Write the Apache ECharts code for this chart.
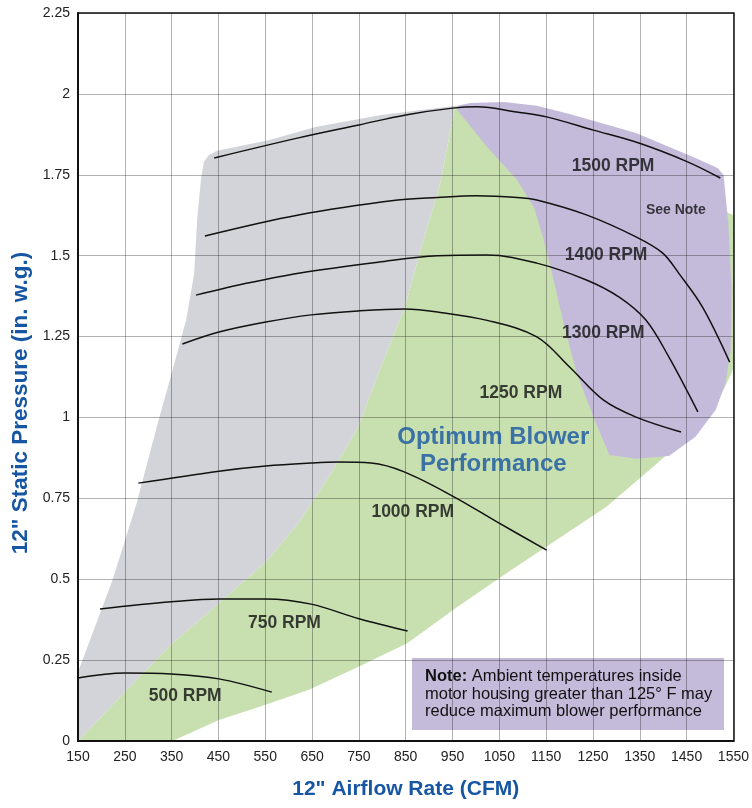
<!DOCTYPE html>
<html><head><meta charset="utf-8">
<script src="https://cdn.jsdelivr.net/npm/echarts@6/dist/echarts.min.js"></script>
<style>html,body{margin:0;padding:0;background:#fff}#c{width:752px;height:808px}</style>
</head><body><div id="c"></div>
<script>
// ---- data (CFM, in. w.g.) ----
const xMin = 150, xMax = 1550, xStep = 100;
const yMin = 0, yMax = 2.25, yStep = 0.25;

const grayZone = [[150,0],[150,0.213],[224,0.498],[275,0.733],[318,0.970],[352,1.147],[381,1.301],[398,1.443],[405,1.620],[413,1.740],[419,1.790],[430,1.811],[447,1.824],[557,1.857],[657,1.898],[797,1.935],[939,1.960],[960,1.963]];
const greenLeftEdge = [[150,0],[254,0.158],[352,0.303],[415,0.380],[500,0.488],[551,0.553],[621,0.674],[691,0.828],[748,0.970],[797,1.156],[848,1.341],[882,1.518],[924,1.725],[954,1.950],[960,1.963]];
const greenRightEdge = [[1550,1.626],[1550,1.153],[1544,1.131],[1518,1.054],[1484,0.992],[1427,0.909],[1363,0.828],[1278,0.723],[1172,0.621],[1066,0.519],[960,0.414],[854,0.303],[748,0.229],[642,0.158],[536,0.105],[451,0.065],[352,0]];
const purpleZone = [[960,1.963],[988,1.972],[1060,1.975],[1130,1.963],[1200,1.938],[1342,1.879],[1469,1.802],[1516,1.771],[1529,1.749],[1539,1.601],[1546,1.394],[1544,1.208],[1533,1.106],[1512,1.023],[1469,0.940],[1412,0.881],[1342,0.872],[1285,0.884],[1251,1.001],[1215,1.137],[1187,1.292],[1166,1.425],[1145,1.548],[1124,1.650],[1088,1.734],[1024,1.836],[960,1.950]];

const rpm1500 = [[441,1.802],[621,1.864],[750,1.904],[850,1.935],[950,1.956],[1003,1.960],[1087,1.944],[1151,1.929],[1251,1.888],[1348,1.848],[1452,1.790],[1522,1.740]];
const rpm1400 = [[421,1.561],[621,1.626],[833,1.672],[918,1.680],[1000,1.685],[1088,1.680],[1130,1.672],[1236,1.626],[1342,1.558],[1399,1.508],[1433,1.446],[1484,1.341],[1542,1.171]];
const rpm1300 = [[402,1.378],[515,1.416],[621,1.446],[791,1.480],[918,1.500],[1024,1.502],[1130,1.477],[1236,1.425],[1306,1.372],[1363,1.301],[1412,1.187],[1474,1.017]];
const rpm1250 = [[373,1.227],[451,1.264],[551,1.295],[648,1.317],[748,1.329],[848,1.335],[918,1.326],[1024,1.300],[1130,1.249],[1200,1.156],[1272,1.054],[1342,1.001],[1438,0.955]];
const rpm1000 = [[279,0.797],[451,0.834],[551,0.850],[648,0.859],[706,0.862],[776,0.859],[848,0.831],[954,0.754],[1045,0.677],[1151,0.590]];
const rpm750 = [[197,0.408],[349,0.430],[451,0.439],[551,0.439],[648,0.423],[752,0.377],[854,0.340]];
const rpm500 = [[150,0.195],[250,0.210],[349,0.207],[451,0.192],[564,0.151]];

const curveLabels = ['500 RPM','750 RPM','1000 RPM','1250 RPM','1300 RPM','1400 RPM','1500 RPM'];
const curveLabelPos = [[379,0.139],[591,0.365],[865,0.708],[1096,1.076],[1272,1.261],[1278,1.502],[1293,1.777]];
const seeNoteText = 'See Note';
const seeNotePos = [1427,1.641];
const zoneText = 'Optimum Blower\nPerformance';
const zonePos = [1037,0.896];
const noteBold = 'Note:';
const noteRest = ' Ambient temperatures inside\nmotor housing greater than 125° F may\nreduce maximum blower performance';
const xName = '12" Airflow Rate (CFM)';
const yName = '12" Static Pressure (in. w.g.)';

// ---- chart ----
const BLUE = '#1656a2';
const FONT = '"Liberation Sans", Arial, Helvetica, sans-serif';

function zone(pts, color) {
  return {
    type: 'custom', z: 1, silent: true, clip: true,
    data: pts,
    encode: { x: 0, y: 1 },
    renderItem: function (params, api) {
      if (params.dataIndex !== 0) return null;
      return { type: 'polygon', shape: { points: pts.map(p => api.coord(p)) }, style: { fill: color } };
    }
  };
}
function curve(pts) {
  return { type: 'line', z: 4, data: pts, smooth: 0.35, showSymbol: false, symbol: 'none', silent: true,
    lineStyle: { color: '#111', width: 1.5 } };
}

const grayFull = grayZone.concat(greenLeftEdge.slice().reverse());
const greenFull = greenLeftEdge.concat(greenRightEdge);

const chart = echarts.init(document.getElementById('c'), null, { renderer: 'canvas' });
const axisCommonX = { type: 'value', min: xMin, max: xMax, interval: xStep, z: 3 };
const axisCommonY = { type: 'value', min: yMin, max: yMax, interval: yStep, z: 3 };

chart.setOption({
  animation: false,
  backgroundColor: '#fff',
  grid: { left: 78, right: 14, top: 13, bottom: 67 },
  xAxis: [
    Object.assign({}, axisCommonX, {
      name: xName, nameLocation: 'middle', nameGap: 38,
      nameTextStyle: { color: BLUE, fontSize: 21, fontWeight: 'bold', fontFamily: FONT },
      axisLine: { show: true, lineStyle: { color: '#111', width: 2 } },
      axisTick: { show: false },
      axisLabel: { color: '#222', fontSize: 14, margin: 9, fontFamily: FONT, formatter: v => String(v) },
      splitLine: { show: true, lineStyle: { color: 'rgba(0,0,0,0.3)', width: 1 } }
    }),
    Object.assign({}, axisCommonX, {
      position: 'top', axisLine: { show: true, onZero: false, lineStyle: { color: '#111', width: 1.5 } },
      axisTick: { show: false }, axisLabel: { show: false }, splitLine: { show: false }
    })
  ],
  yAxis: [
    Object.assign({}, axisCommonY, {
      name: yName, nameLocation: 'middle', nameGap: 45, nameRotate: 90,
      nameTextStyle: { color: BLUE, fontSize: 22.5, fontWeight: 'bold', fontFamily: FONT, padding: [0, 52, 0, 0] },
      axisLine: { show: true, lineStyle: { color: '#111', width: 2 } },
      axisTick: { show: false },
      axisLabel: { color: '#222', fontSize: 14, margin: 8, fontFamily: FONT, formatter: v => String(v) },
      splitLine: { show: true, lineStyle: { color: 'rgba(0,0,0,0.3)', width: 1 } }
    }),
    Object.assign({}, axisCommonY, {
      position: 'right', axisLine: { show: true, onZero: false, lineStyle: { color: '#111', width: 1.5 } },
      axisTick: { show: false }, axisLabel: { show: false }, splitLine: { show: false }
    })
  ],
  series: [
    zone(grayFull, '#d3d4da'),
    zone(greenFull, '#c8dfb0'),
    zone(purpleZone, '#c4bbdb'),
    curve(rpm500), curve(rpm750), curve(rpm1000), curve(rpm1250), curve(rpm1300), curve(rpm1400), curve(rpm1500),
    {
      type: 'scatter', z: 6, symbolSize: 0, silent: true,
      data: curveLabels.map((t, i) => ({ name: t, value: curveLabelPos[i] })),
      label: { show: true, position: 'inside', formatter: '{b}', color: '#111', fontSize: 17.5, fontWeight: 'bold', fontFamily: FONT }
    },
    {
      type: 'scatter', z: 6, symbolSize: 0, silent: true,
      data: [{ name: seeNoteText, value: seeNotePos }],
      label: { show: true, position: 'inside', formatter: '{b}', color: '#111', fontSize: 14, fontWeight: 'bold', fontFamily: FONT }
    },
    {
      type: 'scatter', z: 6, symbolSize: 0, silent: true,
      data: [{ name: zoneText, value: zonePos }],
      label: { show: true, position: 'inside', formatter: '{b}', color: BLUE, fontSize: 24, lineHeight: 27, fontWeight: 'bold', fontFamily: FONT, align: 'center' }
    }
  ],
  graphic: [{
    type: 'group', left: 412, top: 658, z: 20,
    children: [
      { type: 'rect', shape: { x: 0, y: 0, width: 312, height: 72 }, style: { fill: '#c4bbdb' } },
      { type: 'text', x: 13, y: 10, style: {
          text: '{b|' + noteBold + '}' + noteRest.split('\n').map(l => '{r|' + l + '}').join('\n'),
          rich: {
            b: { fontWeight: 'bold', fontSize: 16.5, lineHeight: 17.5, fill: '#111', fontFamily: FONT },
            r: { fontSize: 16.5, lineHeight: 17.5, fill: '#111', fontFamily: FONT }
          }
        } }
    ]
  }]
});
</script></body></html>
